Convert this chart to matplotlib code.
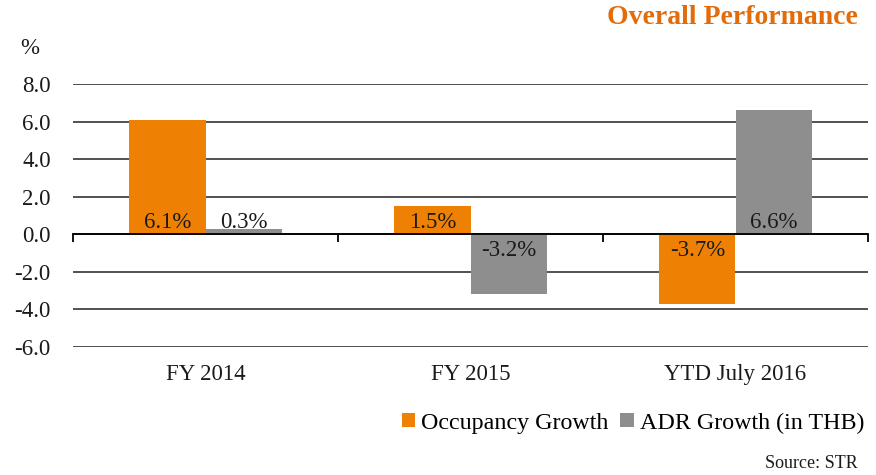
import matplotlib
matplotlib.use("Agg")
import matplotlib.pyplot as plt
import matplotlib.transforms as mtransforms
import numpy as np
from matplotlib.patches import Patch

categories = ["FY 2014", "FY 2015", "YTD July 2016"]
occupancy = [6.1, 1.5, -3.7]
adr = [0.3, -3.2, 6.6]
series_names = ["Occupancy Growth", "ADR Growth (in THB)"]
yticks = [-6.0, -4.0, -2.0, 0.0, 2.0, 4.0, 6.0, 8.0]

orange = "#EE8104"
gray = "#8E8E8E"
txt = "#1a1a1a"
plt.rcParams['font.family'] = ['Liberation Serif', 'DejaVu Serif']

fig = plt.figure(figsize=(8.76, 4.75), dpi=100)
ax = fig.add_axes([73/876, 1-347/475, 795/876, (347-84)/475])

x = np.arange(len(categories))
w = 0.287
b1 = ax.bar(x - w/2, occupancy, w, color=orange, zorder=2)
b2 = ax.bar(x + w/2, adr, w, color=gray, zorder=2)

for bars, vals in ((b1, occupancy), (b2, adr)):
    for r, v in zip(bars, vals):
        cx = r.get_x() + r.get_width()/2
        if v >= 0:
            ax.annotate(f"{v:.1f}%", (cx, 0), xytext=(0, 1), textcoords="offset points",
                        ha="center", va="bottom", fontsize=16.5, color=txt, zorder=3)
        else:
            ax.annotate(f"{v:.1f}%", (cx, 0), xytext=(0, -4), textcoords="offset points",
                        ha="center", va="top", fontsize=16.5, color=txt, zorder=3)

ax.set_xlim(-0.5, len(categories) - 0.5)
ax.set_ylim(-6, 8)
ax.set_yticks(yticks)
ax.set_yticklabels([f"{t:.1f}" for t in yticks], fontsize=16.5, color=txt)
ax.yaxis.grid(True, color="#333333", linewidth=1.2, zorder=0)
ax.tick_params(axis='y', length=0, pad=16)

for s in ['top', 'right', 'left']:
    ax.spines[s].set_visible(False)
ax.spines['bottom'].set_position(('data', 0))
ax.spines['bottom'].set_color('#000000')
ax.spines['bottom'].set_linewidth(1.3)
ax.spines['bottom'].set_zorder(4)
ax.set_xticks(np.arange(len(categories) + 1) - 0.5)
ax.set_xticklabels([])
ax.tick_params(axis='x', direction='out', length=6, width=1.3, color='#000000')

off = mtransforms.ScaledTranslation(0, -17/100, fig.dpi_scale_trans)
for i, c in enumerate(categories):
    ax.text(i, -6, c, ha='center', va='top', fontsize=16.5, color=txt,
            transform=ax.transData + off)

fig.text(858/876, 1-18/475, "Overall Performance", ha='right', va='center',
         fontsize=20, fontweight='bold', color="#E36C0A")
fig.text(20/876, 1-49/475, "%", ha='left', va='center', fontsize=16.5, color=txt)
fig.text(858/876, 1-464/475, "Source: STR", ha='right', va='center', fontsize=13, color=txt)

handles = [Patch(facecolor=orange, edgecolor='none'), Patch(facecolor=gray, edgecolor='none')]
fig.legend(handles, series_names, loc='center right', bbox_to_anchor=(864/876, 1-423/475),
           ncol=2, frameon=False, fontsize=17.3, handlelength=0.55, handleheight=0.55,
           handletextpad=0.25, columnspacing=0.5, borderaxespad=0, borderpad=0)

fig.savefig("out.png", dpi=100)
